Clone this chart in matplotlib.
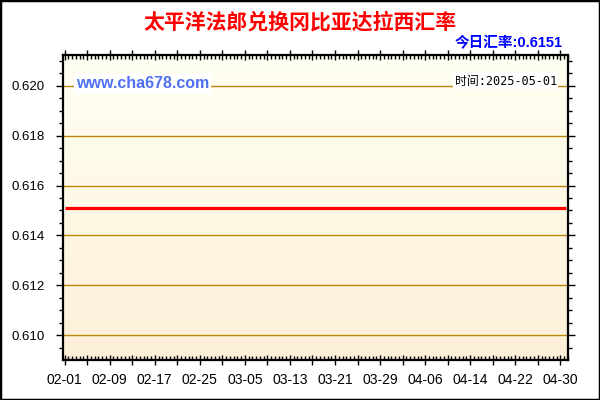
import datetime as dt
import numpy as np
import matplotlib
matplotlib.use("Agg")
import matplotlib.pyplot as plt
from matplotlib.ticker import MultipleLocator, FuncFormatter
from matplotlib.patches import Rectangle

plt.rcParams['font.family'] = ['Liberation Sans', 'Noto Sans CJK SC']

# data
dates = ['2025-02-01', '2025-05-01']
rates = [0.6151, 0.6151]
title = '太平洋法郎兑换冈比亚达拉西汇率'
today_rate = '今日汇率:0.6151'
stamp = '时间:2025-05-01'
site = 'www.cha678.com'

start = dt.date(2025, 2, 1)
days = [(dt.date.fromisoformat(d) - start).days for d in dates]

fig = plt.figure(figsize=(6, 4), dpi=100)
ax = fig.add_axes([63 / 600, 40 / 400, 505 / 600, 305 / 400])

ax.set_xlim(-0.3, 89.37)
ax.set_ylim(0.60901, 0.62123)

# background gradient, light yellow -> light orange
top = np.array([255, 255, 242]) / 255
bot = np.array([253, 240, 216]) / 255
t = np.linspace(0, 1, 256)[:, None]
grad = (top * (1 - t) + bot * t)[:, None, :]
ax.imshow(grad, extent=[-0.3, 89.37, 0.60901, 0.62123], aspect='auto',
          origin='upper', zorder=0)

ax.yaxis.set_major_locator(MultipleLocator(0.002))
ax.yaxis.set_minor_locator(MultipleLocator(0.0005))
ax.yaxis.set_major_formatter(FuncFormatter(lambda v, p: f'{v:.3f}'))
ax.xaxis.set_major_locator(MultipleLocator(4))
ax.xaxis.set_minor_locator(MultipleLocator(2 / 3))


def xfmt(v, p):
    n = int(round(v))
    if n % 8:
        return ''
    return (start + dt.timedelta(days=n)).strftime('%m-%d')


ax.xaxis.set_major_formatter(FuncFormatter(xfmt))

ax.grid(axis='y', which='major', color='#b8860b', linewidth=1.0, zorder=1)
ax.set_axisbelow(True)

ax.plot(days, rates, color='#ff0000', linewidth=2.3, zorder=3,
        solid_capstyle='butt')

ax.tick_params(axis='both', which='both', top=True, right=True,
               labelsize=9.5, colors='black', width=1)
ax.tick_params(axis='y', which='major', direction='out', length=5, pad=8)
ax.tick_params(axis='y', which='minor', direction='out', length=3)
ax.tick_params(axis='x', which='major', direction='inout', length=7, pad=6,
               labelsize=10)
ax.tick_params(axis='x', which='minor', direction='in', length=3)
for sp in ax.spines.values():
    sp.set_linewidth(1.6)
    sp.set_zorder(5)

fig.text(0.5, 1 - 22 / 400, title, color='#ff0000', fontsize=15,
         fontweight='bold', ha='center', va='center',
         family=['Noto Sans CJK SC'])
fig.text(563 / 600, 1 - 43 / 400, today_rate, color='#0000ff', fontsize=10.5,
         fontweight='bold', ha='right', va='center',
         family=['Liberation Sans', 'Noto Sans CJK SC'])
fig.text(76 / 600, 1 - 84 / 400, site, color='#4f70f0', fontsize=11.5,
         fontweight='bold', ha='left', va='center', zorder=10,
         bbox=dict(facecolor='white', edgecolor='none', pad=1.5))
fig.text(557 / 600, 1 - 81 / 400, stamp, color='black', fontsize=8.6,
         ha='right', va='center', zorder=10,
         family=['DejaVu Sans Mono', 'Noto Sans CJK SC'],
         bbox=dict(facecolor='white', edgecolor='none', pad=1))

fig.patches.append(Rectangle((0, 0), 1, 1, transform=fig.transFigure,
                             fill=False, edgecolor='black', linewidth=2.5))

fig.savefig('out.png', dpi=100, facecolor='white')
